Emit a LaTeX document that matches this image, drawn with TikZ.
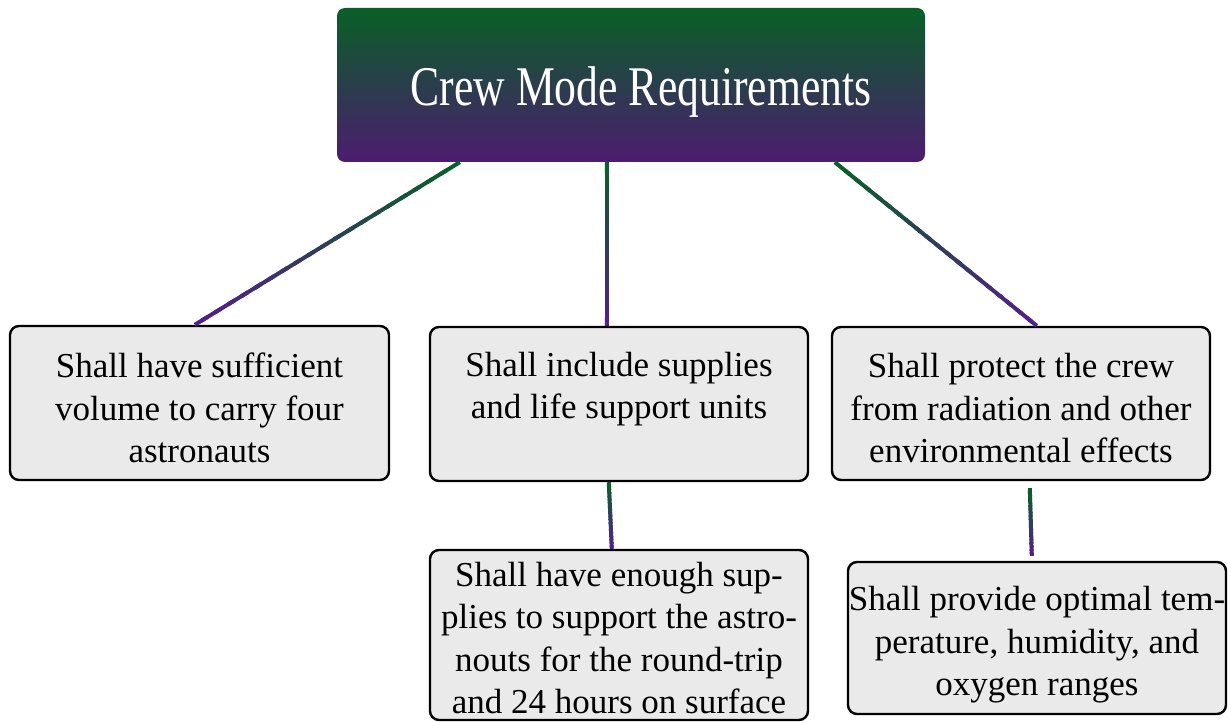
\documentclass[tikz,border=0pt]{standalone}
\usepackage{fontspec}
\setmainfont{Liberation Serif}
\usetikzlibrary{calc}
\definecolor{cgreen}{RGB}{8,96,38}
\definecolor{cpurple}{RGB}{76,28,112}
\definecolor{lpurple}{RGB}{84,30,140}
\definecolor{boxfill}{RGB}{234,234,234}
\newcommand{\gradlink}[2]{%
  \foreach \i in {0,...,19}{%
    \pgfmathsetmacro{\p}{100-\i*5-2.5}%
    \pgfmathsetmacro{\q}{min(1,(\i+1.5)/20)}%
    \draw[line width=4pt, draw=cgreen!\p!lpurple]
      ($(#1)!{\i/20}!(#2)$) -- ($(#1)!{\q}!(#2)$);
  }}
\tikzset{
  reqbox/.style={draw=black, line width=2.4pt, fill=boxfill, rounded corners=9pt,
    minimum width=378pt, minimum height=154pt, inner sep=0pt},
  boxtext/.style={inner sep=0pt, align=center, font=\fontsize{35}{42.5}\selectfont},
  titlebox/.style={rounded corners=8pt, top color=cgreen, bottom color=cpurple,
    minimum width=588pt, minimum height=154pt, inner sep=0pt},
  titletext/.style={inner sep=0pt, text=white, font=\fontsize{56}{60}\selectfont}
}
\begin{document}
\begin{tikzpicture}[x=1pt,y=-1pt]
\useasboundingbox (0,0) rectangle (1231,722);
\node[titlebox, label={[titletext, xshift=10pt, yshift=-7pt]center:\scalebox{0.78}[1]{Crew Mode Requirements}}] (top) at (631,85) {};
\node[reqbox, minimum width=379pt, label={[boxtext, yshift=-5pt]center:Shall have sufficient\\volume to carry four\\astronauts}] (b1) at (199.5,403) {};
\node[reqbox, label={[boxtext, yshift=15pt]center:Shall include supplies\\and life support units}] (b2) at (619,404) {};
\node[reqbox, minimum height=153pt, label={[boxtext, yshift=-5pt]center:Shall protect the crew\\from radiation and other\\environmental effects}] (b3) at (1021,403.5) {};
\node[reqbox, minimum height=170pt, label={[boxtext, yshift=-3pt]center:Shall have enough sup-\\plies to support the astro-\\nouts for the round-trip\\and 24 hours on surface}] (b4) at (619,635) {};
\node[reqbox, minimum height=152pt, label={[boxtext, yshift=-7pt]center:Shall provide optimal tem-\\perature, humidity, and\\oxygen ranges}] (b5) at (1037,638) {};
\coordinate (s1) at ([xshift=123pt]top.south west);
\coordinate (e1) at ([xshift=186pt]b1.north west);
\coordinate (s2) at ([xshift=270pt]top.south west);
\coordinate (e2) at ([xshift=178pt]b2.north west);
\coordinate (s3) at ([xshift=498pt]top.south west);
\coordinate (e3) at ([xshift=206pt]b3.north west);
\coordinate (s4) at ([xshift=180pt]b2.south west);
\coordinate (e4) at ([xshift=183pt]b4.north west);
\coordinate (s5) at ([xshift=199pt,yshift=-7pt]b3.south west);
\coordinate (e5) at ([xshift=185pt,yshift=5pt]b5.north west);
\gradlink{s1}{e1}
\gradlink{s2}{e2}
\gradlink{s3}{e3}
\gradlink{s4}{e4}
\gradlink{s5}{e5}
\end{tikzpicture}
\end{document}
